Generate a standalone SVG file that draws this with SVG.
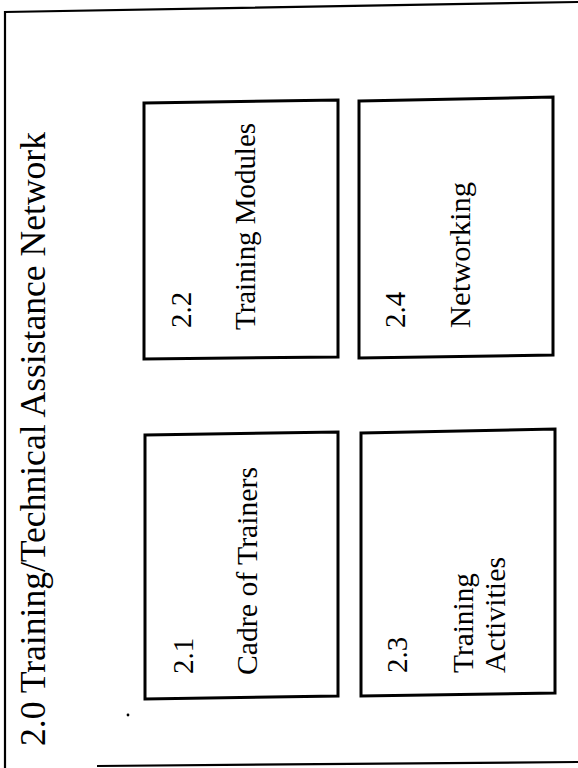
<svg xmlns="http://www.w3.org/2000/svg" width="578" height="768" viewBox="0 0 578 768">
<style>
.frame{fill:none;stroke:#000;stroke-width:2.2}
.box{fill:none;stroke:#000;stroke-width:3;stroke-linejoin:miter}
.t{font-family:"Liberation Serif","Times New Roman",serif;fill:#000}
.title{font-size:35px}
.lbl{font-size:29px}
</style>
<rect width="578" height="768" fill="#fff"/>
<g id="frame">
<path class="frame" d="M5,768 L5,12 L578,2"/>
<path class="frame" d="M97,766 L578,762"/>
<text class="t title" transform="translate(45,746) rotate(-90)" textLength="614" lengthAdjust="spacingAndGlyphs">2.0 Training/Technical Assistance Network</text>
<circle cx="128" cy="715" r="1.4" fill="#000"/>
</g>
<g id="node-2-1">
<path class="box" d="M145,435 L338,432 L338,696 L145,699 Z"/>
<text class="t lbl" transform="translate(193,674) rotate(-90)">2.1</text>
<text class="t lbl" transform="translate(257,675) rotate(-90)" textLength="208" lengthAdjust="spacingAndGlyphs">Cadre of Trainers</text>
</g>
<g id="node-2-2">
<path class="box" d="M144,103 L338,100 L338,357 L144,359 Z"/>
<text class="t lbl" transform="translate(191,328) rotate(-90)">2.2</text>
<text class="t lbl" transform="translate(255,330) rotate(-90)" textLength="207" lengthAdjust="spacingAndGlyphs">Training Modules</text>
</g>
<g id="node-2-3">
<path class="box" d="M361,433 L555,429 L555,693 L361,696 Z"/>
<text class="t lbl" transform="translate(407,673) rotate(-90)">2.3</text>
<text class="t lbl" transform="translate(473,673) rotate(-90)" textLength="100" lengthAdjust="spacingAndGlyphs">Training</text>
<text class="t lbl" transform="translate(505,673) rotate(-90)" textLength="116" lengthAdjust="spacingAndGlyphs">Activities</text>
</g>
<g id="node-2-4">
<path class="box" d="M359,101 L553,97 L553,355 L359,358 Z"/>
<text class="t lbl" transform="translate(405,328) rotate(-90)">2.4</text>
<text class="t lbl" transform="translate(470,328) rotate(-90)" textLength="146" lengthAdjust="spacingAndGlyphs">Networking</text>
</g>
<g id="connectors"></g>
</svg>
